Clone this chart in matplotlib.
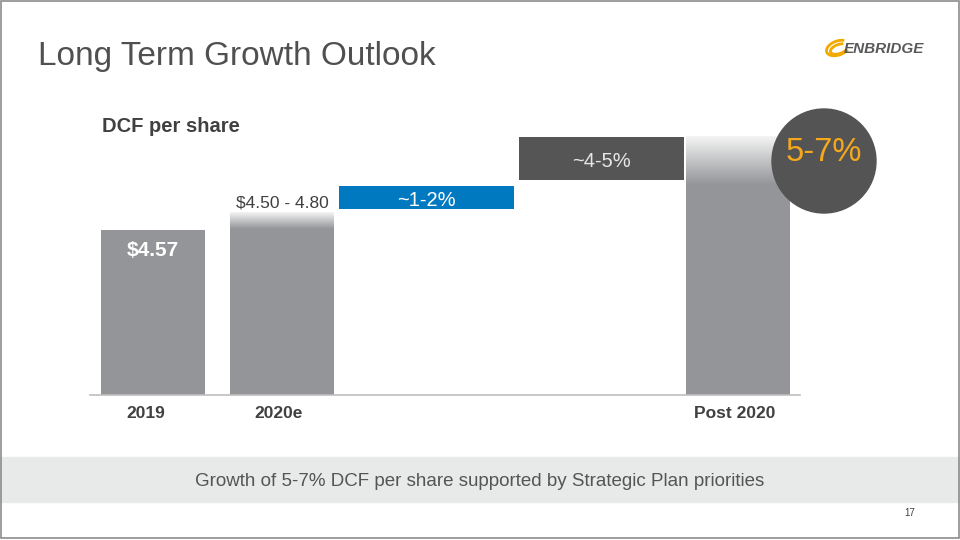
import matplotlib
matplotlib.use("Agg")
import matplotlib.pyplot as plt
import matplotlib.patches as mpatches
import numpy as np
from matplotlib.colors import LinearSegmentedColormap

# chart values (schematic DCF per share, $)
categories = ["2019", "2020e", "Post 2020"]
dcf_2019 = 4.57
range_2020 = "$4.50 - 4.80"
bar_solid = [4.57, 4.60, 5.82]        # solid part of each bar
bar_fade_top = [4.57, 5.07, 7.15]     # top of the faded part
step_labels = ["~1-2%", "~4-5%"]
step_low = [5.15, 5.96]
step_high = [5.79, 7.15]
growth_label = "5-7%"

# layout (pixel-style positions on a 960x540 canvas)
bar_left = [101, 230, 686]
bar_width = [104, 104, 104]
step_left = [339, 519]
step_width = [175, 165]
label_x = [146, 279, 735]

GRAY = "#939598"
BLUE = "#0079C1"
DARK = "#555555"
TXT = "#404040"
ORANGE = "#F5A81C"
FONT = ["Liberation Sans", "DejaVu Sans"]

fig = plt.figure(figsize=(9.6, 5.4), dpi=100)
W, H = 960, 540

# chart axes: x in px, baseline at y=395 px, top at 100 px
ax = fig.add_axes([90 / W, (H - 395) / H, 710 / W, 295 / H])
ax.axis("off")

fade_cmap = LinearSegmentedColormap.from_list("fade", ["#F4F4F4", GRAY])
grad = np.linspace(0, 1, 64).reshape(-1, 1)

for left, w, solid, top in zip(bar_left, bar_width, bar_solid, bar_fade_top):
    ax.bar(left, solid, width=w, align="edge", color=GRAY, zorder=2)
    if top > solid:
        ax.imshow(grad, extent=(left, left + w, solid, top), origin="upper",
                  cmap=fade_cmap, aspect="auto", zorder=2)
ax.set_xlim(90, 800)
ax.set_ylim(0, 295 / 36.1)

step_colors = [BLUE, DARK]
step_txt = ["white", "#E6E6E6"]
for left, w, lo, hi, lab, c, tc in zip(step_left, step_width, step_low, step_high,
                                       step_labels, step_colors, step_txt):
    ax.bar(left, hi - lo, bottom=lo, width=w, align="edge", color=c, zorder=3)
    ax.text(left + w / 2, (lo + hi) / 2 - 0.03, lab, ha="center",
            va="center_baseline", color=tc, fontsize=14.5, family=FONT, zorder=4)

ax.text(bar_left[0] + bar_width[0] / 2, dcf_2019 - 0.52, f"${dcf_2019:.2f}",
        ha="center", va="center_baseline", color="white", fontsize=15,
        fontweight="bold", family=FONT, zorder=4)
ax.text(bar_left[1] + bar_width[1] / 2, bar_fade_top[1] + 0.05, range_2020,
        ha="center", va="bottom", color=TXT, fontsize=12.5, family=FONT, zorder=4)

ax.axhline(0, color="#BFBFBF", lw=1.2, zorder=5, clip_on=False)

# overlay axes in pixel coordinates for slide elements
ov = fig.add_axes([0, 0, 1, 1], facecolor="none")
ov.set_xlim(0, W)
ov.set_ylim(H, 0)
ov.axis("off")

for lab, x in zip(categories, label_x):
    ov.text(x, 412, lab, ha="center", va="center_baseline", color=TXT,
            fontsize=12.5, fontweight="bold", family=FONT)

ov.text(38, 53, "Long Term Growth Outlook", ha="left", va="center_baseline",
        color="#505050", fontsize=24, family=FONT)
ov.text(102, 124, "DCF per share", ha="left", va="center_baseline", color=TXT,
        fontsize=14.5, fontweight="bold", family=FONT)

ov.add_patch(mpatches.Circle((824, 161), 52, color="#545454", zorder=6))
ov.text(824, 149, growth_label, ha="center", va="center_baseline", color=ORANGE,
        fontsize=23.5, family=FONT, zorder=7)

ov.add_patch(mpatches.Rectangle((0, 457), W, 45, color="#E8E9E9", zorder=1))
ov.text(480, 480, "Growth of 5-7% DCF per share supported by Strategic Plan priorities",
        ha="center", va="center_baseline", color="#555555", fontsize=13.5,
        family=FONT, zorder=2)
ov.text(910, 513, "17", ha="center", va="center", color=TXT, fontsize=7, family=FONT)

# logo
for (cx, cy, w, h, ang) in [(838, 48, 24, 14, -20), (839, 49, 18, 9, -20)]:
    ov.add_patch(mpatches.Arc((cx, cy), w, h, angle=ang, theta1=30, theta2=330,
                              color="#F2A900", lw=2))
ov.text(844, 49, "ENBRIDGE", ha="left", va="center", color="#58595B",
        fontsize=11, fontweight="bold", fontstyle="italic", family=FONT)

# slide border
ov.add_patch(mpatches.Rectangle((0.5, 0.5), W - 2, H - 2.5, fill=False,
                                edgecolor="#8C8C8C", lw=1.2, zorder=10))

fig.savefig("out.png", dpi=100)
